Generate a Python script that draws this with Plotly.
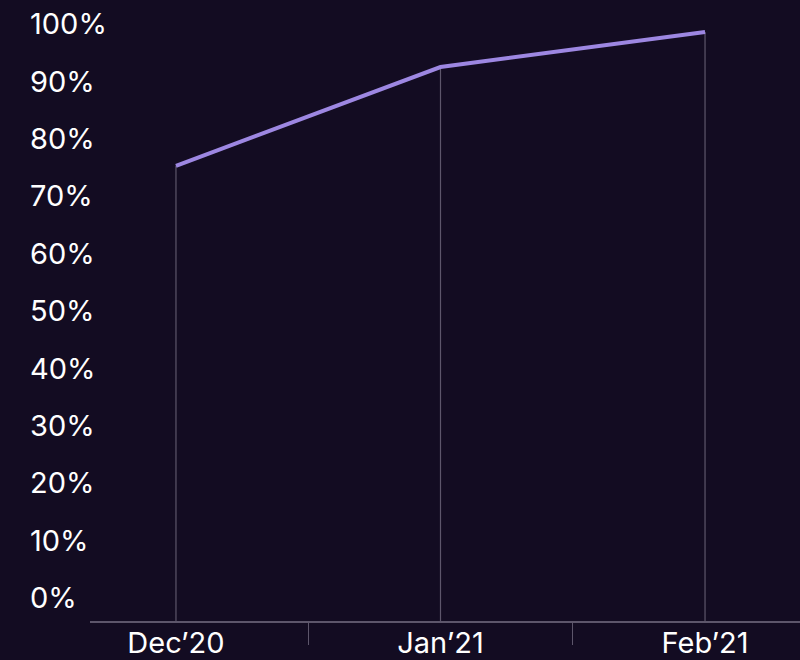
import plotly.graph_objects as go

months = ["Dec’20", "Jan’21", "Feb’21"]
values = [0.753, 0.925, 0.986]
y_ticks = [0, 0.1, 0.2, 0.3, 0.4, 0.5, 0.6, 0.7, 0.8, 0.9, 1.0]

BG = "#130c22"
LINE = "#9d87e2"
GREY = "#5d566b"
Y_MIN = -0.0401
Y_MAX = 1.0418

drop_x, drop_y = [], []
for m, v in zip(months, values):
    drop_x += [m, m, None]
    drop_y += [Y_MIN, v, None]

fig = go.Figure()
fig.add_trace(go.Scatter(x=drop_x, y=drop_y, mode="lines",
                         line=dict(color=GREY, width=1.2),
                         hoverinfo="skip", showlegend=False))
fig.add_trace(go.Scatter(x=months, y=values, mode="lines",
                         line=dict(color=LINE, width=4),
                         showlegend=False))

fig.update_layout(
    width=800, height=660,
    paper_bgcolor=BG, plot_bgcolor=BG,
    margin=dict(l=0, r=0, t=0, b=39),
    font=dict(family="Inter, Lato, sans-serif", size=29, color="#ffffff"),
    xaxis=dict(
        domain=[90 / 800, 1],
        type="category",
        categoryorder="array", categoryarray=months,
        range=[-0.325, 2.359],
        automargin=False,
        showgrid=False, zeroline=False,
        showline=True, linecolor=GREY, linewidth=1.5,
        ticks="outside", tickson="boundaries", ticklen=22,
        tickcolor=GREY, tickwidth=1.2,
        ticklabelstandoff=-5,
        tickfont=dict(size=29, color="#ffffff"),
    ),
    yaxis=dict(
        anchor="free", position=26 / 800,
        range=[Y_MIN, Y_MAX],
        automargin=False,
        tickvals=y_ticks, tickformat=".0%",
        ticklabelposition="inside",
        showgrid=False, zeroline=False, showline=False, ticks="",
        tickfont=dict(size=29, color="#ffffff"),
    ),
)

fig.write_html(
    "out.html",
    config={"displayModeBar": False},
    post_script="document.body.style.margin='0';"
                "document.body.style.background='#130c22';",
)
